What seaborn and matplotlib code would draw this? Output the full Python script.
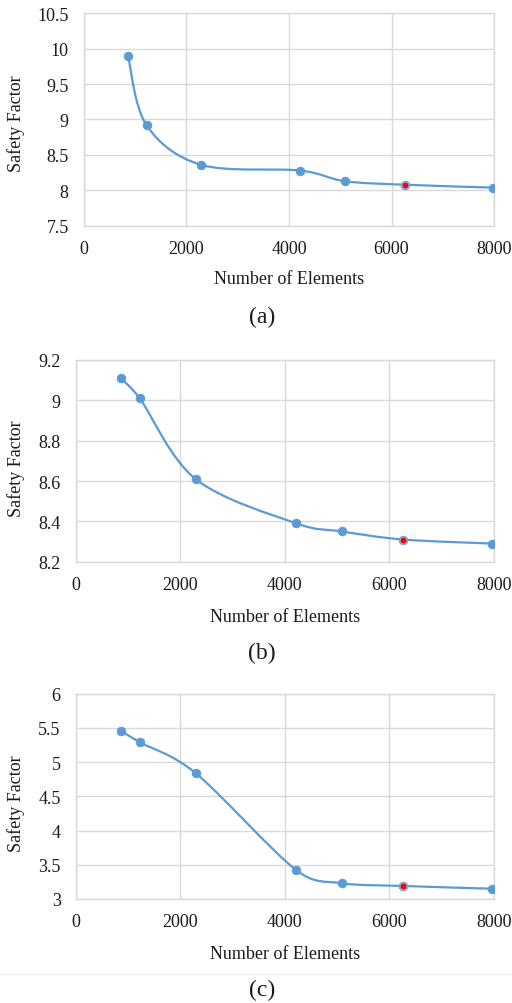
import numpy as np
import matplotlib
matplotlib.use("Agg")
import matplotlib.pyplot as plt
from matplotlib.path import Path
from matplotlib.patches import PathPatch
from matplotlib.lines import Line2D
import seaborn as sns
import pandas as pd

# ---------------- data ----------------
elements = [860, 1220, 2290, 4220, 5090, 6270, 7970]
sf_a = [9.89, 8.92, 8.36, 8.28, 8.13, 8.08, 8.04]
sf_b = [9.11, 9.01, 8.61, 8.39, 8.35, 8.31, 8.29]
sf_c = [5.46, 5.29, 4.84, 3.42, 3.23, 3.19, 3.15]
selected_index = 5
captions = ["(a)", "(b)", "(c)"]
x_ticks = [0, 2000, 4000, 6000, 8000]
y_ticks_a = [7.5, 8, 8.5, 9, 9.5, 10, 10.5]
y_ticks_b = [8.2, 8.4, 8.6, 8.8, 9, 9.2]
y_ticks_c = [3, 3.5, 4, 4.5, 5, 5.5, 6]
x_label = "Number of Elements"
y_label = "Safety Factor"

sns.set_theme(style="whitegrid")
plt.rcParams['font.family'] = ['Liberation Serif', 'DejaVu Serif']

BLUE = "#5B9BD5"
GRID = "#D9D9D9"
TXT = "#1a1a1a"
FS = 13


def smooth_path(ax, xs, ys):
    """Excel-style smoothed line: cubic Bezier segments whose control points
    are computed in screen space (tension 1/6, limited to half the segment)."""
    data = np.column_stack([xs, ys]).astype(float)
    pts = ax.transData.transform(data)
    n = len(pts)
    verts = [pts[0]]
    codes = [Path.MOVETO]
    for i in range(n - 1):
        p0 = pts[i - 1] if i > 0 else pts[i]
        p1 = pts[i]
        p2 = pts[i + 1]
        p3 = pts[i + 2] if i + 2 < n else pts[i + 1]
        d12 = np.hypot(*(p2 - p1))
        d02 = np.hypot(*(p2 - p0))
        d13 = np.hypot(*(p3 - p1))
        f1 = 1 / 6 if d02 / 6 < d12 / 2 else d12 / (2 * d02)
        f2 = 1 / 6 if d13 / 6 < d12 / 2 else d12 / (2 * d13)
        c1 = p1 + (p2 - p0) * f1
        c2 = p2 - (p3 - p1) * f2
        verts += [c1, c2, p2]
        codes += [Path.CURVE4] * 3
    verts = ax.transData.inverted().transform(np.array(verts))
    return Path(verts, codes)


fig = plt.figure(figsize=(5.12, 10.04), dpi=100)
fig.patch.set_facecolor("white")

panels = [
    (sf_a, y_ticks_a, [0.164, 0.774, 0.801, 0.212], -0.166, 0.484, -0.208, 0.684),
    (sf_b, y_ticks_b, [0.1484, 0.4395, 0.816, 0.201], -0.1435, 0.465, -0.231, 0.3496),
    (sf_c, y_ticks_c, [0.1484, 0.1036, 0.816, 0.2045], -0.1435, 0.468, -0.224, 0.0139),
]

for k, (vals, yt, rect, ylx, yly, xly, capy) in enumerate(panels):
    ax = fig.add_axes(rect)
    df = pd.DataFrame({"elements": elements, "sf": vals})
    ax.set_xlim(0, 8000)
    ax.set_ylim(yt[0], yt[-1])
    sns.scatterplot(data=df, x="elements", y="sf", ax=ax, color=BLUE, s=40,
                    edgecolor=BLUE, linewidth=0.5, zorder=4)
    sel = df.iloc[[selected_index]]
    sns.scatterplot(data=sel, x="elements", y="sf", ax=ax, color="#FF0000", s=26,
                    edgecolor="#8FB8E4", linewidth=0.8, zorder=5)
    ax.set_xlim(0, 8000)
    ax.set_ylim(yt[0], yt[-1])
    ax.add_patch(PathPatch(smooth_path(ax, elements, vals), facecolor="none",
                           edgecolor=BLUE, lw=1.6, zorder=3, capstyle="round"))
    ax.set_xticks(x_ticks)
    ax.set_yticks(yt)
    ax.set_yticklabels([f"{v:g}" for v in yt])
    ax.set_xticklabels([str(v) for v in x_ticks])
    ax.grid(True, color=GRID, lw=1.0)
    for s in ax.spines.values():
        s.set_visible(True)
        s.set_color(GRID)
        s.set_linewidth(1.0)
    ax.tick_params(axis="both", length=0, labelsize=FS, colors=TXT)
    ax.tick_params(axis="x", pad=10.0)
    ax.tick_params(axis="y", pad=11.0)
    ax.set_xlabel(x_label, fontsize=FS, color=TXT)
    ax.set_ylabel(y_label, fontsize=FS, color=TXT)
    ax.xaxis.set_label_coords(0.5, xly)
    ax.yaxis.set_label_coords(ylx, yly)
    ax.yaxis.label.set_verticalalignment("center")
    fig.text(262 / 512, capy, captions[k], ha="center", va="center",
             fontsize=17, color=TXT)

fig.add_artist(Line2D([0.0, 1.0], [1 - 975 / 1004, 1 - 975 / 1004],
                      transform=fig.transFigure, color="#EDEDED", lw=0.8))

fig.savefig("out.png", dpi=100, facecolor="white")
